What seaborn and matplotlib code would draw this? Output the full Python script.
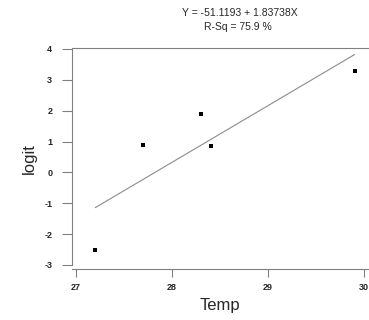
import numpy as np
import pandas as pd
import matplotlib
matplotlib.use("Agg")
import matplotlib.pyplot as plt
import seaborn as sns

# data
temp = [27.2, 27.7, 28.3, 28.4, 29.9]
logit = [-2.53, 0.88, 1.88, 0.86, 3.30]
intercept = -51.1193
slope = 1.83738
r_sq = 75.9

x_ticks = [27, 28, 29, 30]
y_ticks = [-3, -2, -1, 0, 1, 2, 3, 4]

sns.set_style("white")
plt.rcParams["font.family"] = ["Liberation Sans", "DejaVu Sans"]

df = pd.DataFrame({"Temp": temp, "logit": logit})
fit = pd.DataFrame({"Temp": [min(temp), max(temp)]})
fit["logit"] = intercept + slope * fit["Temp"]

fig = plt.figure(figsize=(3.69, 3.20), dpi=100)
ax = fig.add_axes([0.1943, 0.1584, 0.8057, 0.6916])

sns.lineplot(x="Temp", y="logit", data=fit, ax=ax, color="#8c8c8c", linewidth=0.8)
sns.scatterplot(x="Temp", y="logit", data=df, ax=ax, marker="s", s=6,
                color="black", edgecolor="black", linewidth=0)

ax.set_xlim(26.955, 30.05)
ax.set_ylim(-3.14, 4.03)
ax.set_xticks(x_ticks)
ax.set_yticks(y_ticks)
ax.set_xticklabels([str(t) for t in x_ticks], fontsize=6.5, fontweight="bold")
ax.set_yticklabels([str(t) for t in y_ticks], fontsize=6.5, fontweight="bold")

for side in ["left", "top", "bottom"]:
    ax.spines[side].set_color("#808080")
    ax.spines[side].set_linewidth(0.8)
ax.spines["right"].set_visible(False)
ax.spines["left"].set_bounds(-3, 4.03)

ax.tick_params(axis="y", direction="out", length=7, width=0.8, color="#808080", pad=7, left=True)
ax.tick_params(axis="x", direction="out", length=6, width=0.8, color="#808080", pad=4, bottom=True)

ax.set_xlabel("Temp", fontsize=12, labelpad=4)
ax.set_ylabel("logit", fontsize=12, labelpad=5)

fig.text(0.65, 0.958, "Y = %.4f + %.5fX" % (intercept, slope), ha="center", va="center", fontsize=7.5)
fig.text(0.645, 0.915, "R-Sq = %.1f %%" % r_sq, ha="center", va="center", fontsize=7.5)

plt.savefig("out.png", dpi=100)
